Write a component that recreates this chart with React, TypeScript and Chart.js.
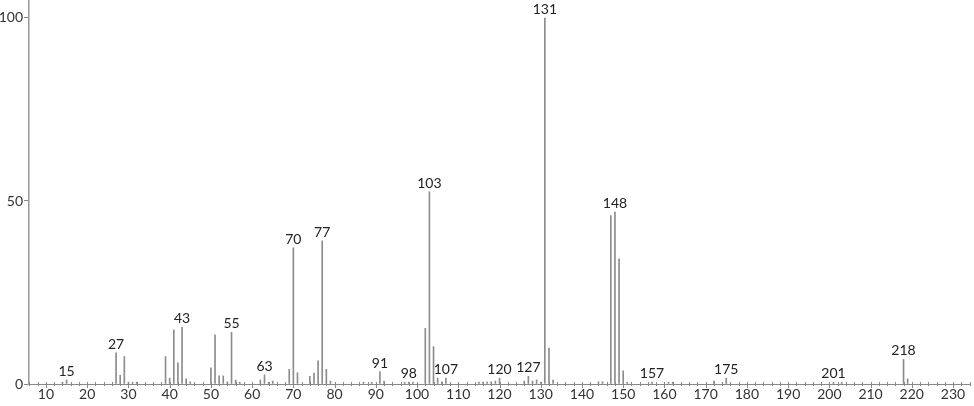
import React, { useEffect, useRef } from "react";
import { Chart, registerables } from "chart.js";

Chart.register(...registerables);

const mz = [14, 15, 27, 28, 29, 30, 31, 32, 39, 40, 41, 42, 43, 44, 45, 50, 51, 52, 53, 54, 55, 56, 57, 62, 63, 64, 65, 69, 70, 71, 74, 75, 76, 77, 78, 79, 87, 89, 91, 92, 97, 98, 99, 102, 103, 104, 105, 106, 107, 115, 116, 117, 118, 119, 120, 126, 127, 128, 129, 130, 131, 132, 133, 144, 145, 147, 148, 149, 150, 151, 157, 161, 162, 172, 175, 201, 203, 218, 219];
const intensity = [0.5, 1.1, 8.5, 2.4, 7.5, 0.5, 0.5, 0.5, 7.5, 1.6, 14.8, 5.8, 15.5, 1.4, 0.6, 4.4, 13.4, 2.2, 2.2, 0.6, 14.1, 1.1, 0.5, 1.1, 2.5, 0.5, 0.8, 4.0, 37.2, 3.1, 2.1, 3.0, 6.3, 39.1, 4.0, 0.8, 0.5, 0.5, 3.4, 0.8, 0.5, 0.5, 0.5, 15.2, 52.5, 10.2, 1.6, 0.6, 1.6, 0.5, 0.5, 0.5, 0.6, 0.8, 1.6, 0.8, 2.1, 0.8, 1.1, 0.5, 100, 9.8, 1.1, 0.6, 0.6, 46.0, 47.0, 34.2, 3.6, 0.5, 0.5, 0.5, 0.5, 0.8, 1.6, 0.5, 0.5, 6.7, 1.4];
const labeledMz = [15, 27, 43, 55, 63, 70, 77, 91, 98, 103, 107, 120, 127, 131, 148, 157, 175, 201, 218];
const xTicks = [10, 20, 30, 40, 50, 60, 70, 80, 90, 100, 110, 120, 130, 140, 150, 160, 170, 180, 190, 200, 210, 220, 230];
const yTicks = [0, 50, 100];

const FONT = "Lato, 'DejaVu Sans', sans-serif";

const peakLabelPlugin = {
  id: "peakLabels",
  afterDatasetsDraw(chart: any) {
    const ctx = chart.ctx;
    const xs = chart.scales.x;
    const ys = chart.scales.y;
    ctx.save();
    ctx.fillStyle = "#222";
    ctx.font = "14px " + FONT;
    ctx.textAlign = "center";
    ctx.textBaseline = "alphabetic";
    labeledMz.forEach((m) => {
      const i = mz.indexOf(m);
      if (i < 0) return;
      const px = xs.getPixelForValue(m);
      const py = ys.getPixelForValue(intensity[i]);
      ctx.fillText(String(m), px, py - 4);
    });
    // x axis tick marks
    const y0 = ys.getPixelForValue(0);
    ctx.strokeStyle = "#888";
    ctx.lineWidth = 1;
    for (let v = 6; v <= 234; v += 2) {
      const px = Math.round(xs.getPixelForValue(v)) + 0.5;
      const major = v % 10 === 0;
      ctx.beginPath();
      ctx.moveTo(px, y0 - 2);
      ctx.lineTo(px, y0 + (major ? 4 : 2));
      ctx.stroke();
    }
    ctx.restore();
  },
};

export default function App() {
  const ref = useRef<HTMLCanvasElement>(null);
  useEffect(() => {
    document.body.style.margin = "0";
    const data = mz.map((m, i) => ({ x: m, y: intensity[i] }));
    const chart = new Chart(ref.current as HTMLCanvasElement, {
      type: "bar",
      data: {
        datasets: [
          {
            data,
            backgroundColor: "#8c8c8c",
            borderWidth: 0,
            barThickness: 1,
          } as any,
        ],
      },
      options: {
        animation: false,
        responsive: false,
        maintainAspectRatio: false,
        layout: { padding: { top: 1, right: 4, left: 0, bottom: 0 } },
        plugins: { legend: { display: false }, tooltip: { enabled: false } },
        scales: {
          x: {
            type: "linear",
            offset: false,
            min: 5.88,
            max: 234.12,
            afterBuildTicks: (s: any) => {
              s.ticks = xTicks.map((v) => ({ value: v }));
            },
            afterFit: (s: any) => {
              s.height = 22;
              s.paddingLeft = 0;
              s.paddingRight = 0;
            },
            grid: { display: false, drawTicks: false },
            border: { display: true, color: "#888", width: 1 },
            ticks: {
              color: "#333",
              font: { family: FONT, size: 14 },
              padding: 2,
              maxRotation: 0,
              autoSkip: false,
            },
          },
          y: {
            min: 0,
            max: 104.64,
            afterBuildTicks: (s: any) => {
              s.ticks = yTicks.map((v) => ({ value: v }));
            },
            afterFit: (s: any) => {
              s.width = 29;
              s.paddingTop = 0;
              s.paddingBottom = 0;
            },
            grid: { display: true, drawOnChartArea: false, tickLength: 5, color: "#888" },
            border: { display: true, color: "#999", width: 1.5 },
            ticks: {
              color: "#333",
              font: { family: FONT, size: 14 },
              padding: 1,
            },
          },
        },
      },
      plugins: [peakLabelPlugin],
    });
    return () => chart.destroy();
  }, []);
  return (
    <div style={{ position: "absolute", left: 0, top: 0, width: 974, height: 406 }}>
      <canvas ref={ref} width={974} height={406} style={{ width: 974, height: 406 }} />
    </div>
  );
}
